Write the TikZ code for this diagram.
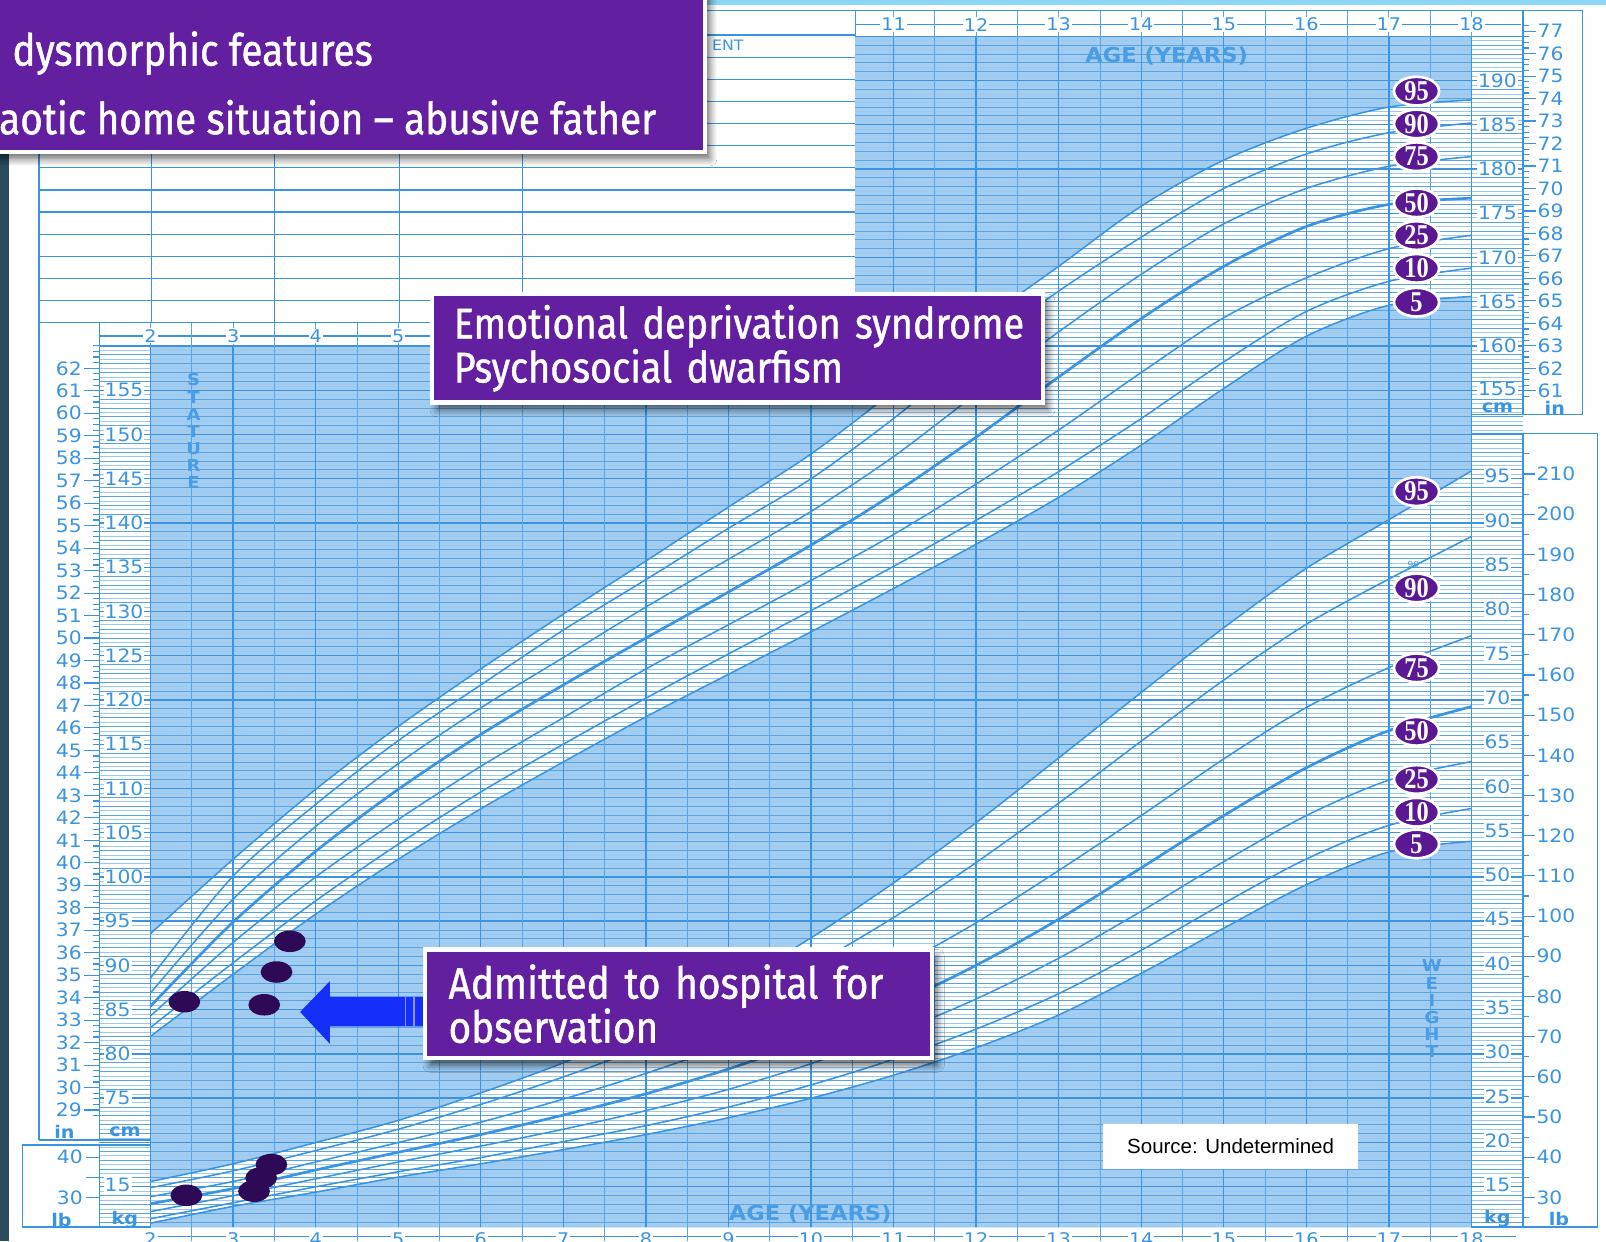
\documentclass[tikz,border=0pt]{standalone}
\usepackage{fontspec}
\setmainfont{Liberation Sans}
\newfontfamily\boxfont{Fira Sans}[FakeStretch=0.88,FakeBold=1]
\newfontfamily\chartfont{DejaVu Sans}[FakeStretch=1.1]
\newfontfamily\badgefont{Liberation Serif}[FakeStretch=0.85]
\usetikzlibrary{positioning,shapes.geometric,shadows.blur}

\definecolor{boxpurple}{RGB}{98,31,160}
\definecolor{badgepurple}{RGB}{90,24,146}
\definecolor{dotpurple}{RGB}{46,10,86}
\definecolor{chartfill}{RGB}{163,205,240}
\definecolor{gridblue}{RGB}{58,148,226}
\definecolor{arrowblue}{RGB}{22,46,250}
\definecolor{stripdark}{RGB}{42,74,94}
\definecolor{topcyan}{RGB}{140,214,245}

\tikzset{
  textbox/.style={fill=boxpurple, draw=white, line width=4pt, text=white,
    font=\boxfont\fontsize{43}{43}\selectfont, align=left, inner ysep=0pt,
    blur shadow={shadow xshift=5pt, shadow yshift=-7pt, shadow blur steps=8,
      shadow opacity=60, shadow blur radius=7pt}},
  boxline/.style={text=white, font=\boxfont\fontsize{43}{43}\selectfont, inner sep=0pt},
  badge/.style={ellipse, fill=badgepurple, draw=white, line width=2.6pt, text=white,
    minimum width=44pt, minimum height=28pt, inner sep=0pt,
    font=\badgefont\bfseries\fontsize{28}{28}\selectfont},
  dot/.style={ellipse, fill=dotpurple, minimum width=31pt, minimum height=21pt, inner sep=0pt},
  scalelbl/.style={text=gridblue, font=\chartfont\fontsize{18}{18}\selectfont, inner sep=1pt},
  agelbl/.style={scalelbl, fill=white, font=\chartfont\fontsize{17}{17}\selectfont},
  unitlbl/.style={text=gridblue, font=\chartfont\bfseries\fontsize{17}{17}\selectfont, inner sep=0pt},
  bigword/.style={text=gridblue!92!white, font=\chartfont\bfseries\fontsize{20}{20}\selectfont, inner sep=0pt},
  formline/.style={draw=gridblue, line width=1.2pt},
  gridhair/.style={draw=gridblue!50, line width=0.5pt},
  gridthin/.style={draw=gridblue!85, line width=0.8pt},
  gridmid/.style={draw=gridblue, line width=1.4pt},
  tickline/.style={draw=gridblue, line width=1.1pt},
  pcurve/.style={draw=gridblue, line width=1.5pt},
}

\begin{document}
\begin{tikzpicture}[x=1pt,y=1pt]
\def\stA{plot[smooth] coordinates {(2,82.0) (3,89.0) (4,95.8) (5,102.0) (6,107.7) (7,113.0) (8,118.1) (9,122.9) (10,127.7) (11,132.6) (12,137.6) (13,142.9) (14,148.8) (15,155.2) (16,161.1) (17,164.6) (18,165.6)}}
\def\stB{plot[smooth] coordinates {(2,83.0) (3,90.3) (4,97.3) (5,103.7) (6,109.6) (7,115.0) (8,120.2) (9,125.2) (10,130.1) (11,135.1) (12,140.3) (13,145.8) (14,151.8) (15,158.2) (16,163.9) (17,167.3) (18,168.8)}}
\def\stC{plot[smooth] coordinates {(2,84.3) (3,92.6) (4,100.0) (5,106.5) (6,112.5) (7,118.0) (8,123.5) (9,128.5) (10,133.5) (11,138.7) (12,144.4) (13,150.5) (14,157.0) (15,163.2) (16,167.7) (17,171.0) (18,172.5)}}
\def\stD{plot[smooth] coordinates {(2,85.4) (3,94.9) (4,102.9) (5,109.9) (6,116.1) (7,121.7) (8,127.0) (9,132.2) (10,137.5) (11,143.3) (12,149.7) (13,156.5) (14,163.1) (15,169.0) (16,173.5) (17,176.0) (18,176.7)}}
\def\stE{plot[smooth] coordinates {(2,86.9) (3,97.5) (4,105.7) (5,112.8) (6,119.1) (7,124.8) (8,130.5) (9,135.9) (10,141.3) (11,147.5) (12,154.6) (13,161.6) (14,168.1) (15,173.8) (16,177.8) (17,180.3) (18,181.4)}}
\def\stF{plot[smooth] coordinates {(2,88.6) (3,100.1) (4,108.2) (5,115.4) (6,121.7) (7,127.9) (8,133.6) (9,139.4) (10,145.0) (11,151.8) (12,159.4) (13,166.2) (14,172.3) (15,177.8) (16,181.7) (17,184.1) (18,185.2)}}
\def\stG{plot[smooth] coordinates {(2,93.6) (3,102.0) (4,109.9) (5,117.0) (6,123.5) (7,129.7) (8,135.7) (9,141.8) (10,147.8) (11,154.9) (12,162.3) (13,169.0) (14,175.8) (15,181.0) (16,184.6) (17,187.0) (18,187.8)}}
\def\wtA{plot[smooth] coordinates {(2,10.7) (3,12.6) (4,14.2) (5,15.9) (6,17.4) (7,19.0) (8,20.7) (9,22.6) (10,24.8) (11,27.4) (12,30.5) (13,34.2) (14,38.9) (15,44.0) (16,48.9) (17,52.6) (18,53.8)}}
\def\wtB{plot[smooth] coordinates {(2,11.2) (3,13.0) (4,14.8) (5,16.5) (6,18.1) (7,19.9) (8,21.7) (9,23.8) (10,26.3) (11,29.2) (12,32.6) (13,36.6) (14,41.5) (15,46.8) (16,51.8) (17,55.6) (18,57.5)}}
\def\wtC{plot[smooth] coordinates {(2,12.0) (3,13.8) (4,15.7) (5,17.6) (6,19.4) (7,21.3) (8,23.4) (9,25.8) (10,28.7) (11,32.1) (12,36.0) (13,40.6) (14,45.9) (15,51.5) (16,56.7) (17,60.7) (18,62.8)}}
\def\wtD{plot[smooth] coordinates {(2,12.9) (3,14.6) (4,16.7) (5,18.7) (6,20.7) (7,22.9) (8,25.3) (9,28.1) (10,31.4) (11,35.3) (12,39.8) (13,45.0) (14,50.8) (15,56.7) (16,62.1) (17,66.3) (18,69.0)}}
\def\wtE{plot[smooth] coordinates {(2,13.7) (3,15.4) (4,17.6) (5,19.8) (6,22.1) (7,24.7) (8,27.6) (9,30.9) (10,34.9) (11,39.4) (12,44.6) (13,50.5) (14,56.7) (15,63.1) (16,68.9) (17,73.4) (18,77.0)}}
\def\wtF{plot[smooth] coordinates {(2,14.7) (3,16.6) (4,18.9) (5,21.3) (6,24.1) (7,27.2) (8,30.7) (9,34.8) (10,39.7) (11,45.2) (12,51.4) (13,58.1) (14,65.1) (15,72.0) (16,78.3) (17,83.4) (18,88.2)}}
\def\wtG{plot[smooth] coordinates {(2,15.4) (3,17.4) (4,19.8) (5,22.3) (6,25.4) (7,28.8) (8,32.8) (9,37.4) (10,42.9) (11,49.1) (12,55.9) (13,63.2) (14,70.6) (15,77.9) (16,84.6) (17,90.1) (18,95.6)}}
\useasboundingbox (0,0) rectangle (1568,-1212);
\clip (0,0) rectangle (1568,-1212);
\fill[white] (0,0) rectangle (1568,-1212);
\fill[topcyan] (690,0) rectangle (1568,-5);
\fill[stripdark] (0,-140) rectangle (9,-1212);

% form area
\foreach \fk in {1,...,13}
  \draw[formline] (38,{-315+21.6*\fk}) -- (835,{-315+21.6*\fk});
\foreach \fx in {148,268,390,510} \draw[formline] (\fx,-140) -- (\fx,-315);
\draw[formline] (38,-140) -- (38,-1113);
\draw[formline] (38,-315) -- (835,-315);
\draw[formline] (835,-10) -- (835,-337);
\draw[formline] (690,-10) -- (1545,-10);
\node[scalelbl, anchor=west, font=\chartfont\fontsize{14}{14}\selectfont] (ent) at (694,-44) {ENT};

% shaded chart and white bands
\fill[chartfill] (147,-337) rectangle (1437,-1198);
\fill[chartfill] (835,-35) rectangle (1437,-337);
\begin{scope}[shift={(-14.2pt,-1720.2pt)}, x=80.6pt, y=8.64pt]
  \fill[white] \stG -- (18,60.4) -- (2,60.4) -- cycle;
  \fill[chartfill] \stA -- (18,60.4) -- (2,60.4) -- cycle;
\end{scope}
\begin{scope}[shift={(-14.2pt,-1286.75pt)}, x=80.6pt, y=8.65pt]
  \fill[white] \wtG -- (18,10.26) -- (2,10.26) -- cycle;
  \fill[chartfill] \wtA -- (18,10.26) -- (2,10.26) -- cycle;
\end{scope}

% grid
\begin{scope}
  \clip (97,-337) rectangle (1487,-1198) (835,-35) rectangle (1487,-337);
  \begin{scope}[shift={(-14.2pt,-1720.2pt)}, x=80.6pt, y=8.64pt]
    \foreach \hc in {60.5,61.5,...,196.5} \draw[gridhair] (1.3,\hc) -- (18.7,\hc);
    \foreach \hc in {61,...,196} \draw[gridthin] (1.3,\hc) -- (18.7,\hc);
    \foreach \hc in {65,70,...,195} \draw[gridmid] (1.3,\hc) -- (18.7,\hc);
    \foreach \ag in {2,2.5,...,18} \draw[gridthin] (\ag,60) -- (\ag,200);
    \foreach \ag in {2,...,18} \draw[gridmid] (\ag,60) -- (\ag,200);
  \end{scope}
\end{scope}

% percentile curves
\begin{scope}[shift={(-14.2pt,-1720.2pt)}, x=80.6pt, y=8.64pt]
  \draw[pcurve] \stA; \draw[pcurve] \stB; \draw[pcurve] \stC;
  \draw[pcurve, line width=2.6pt] \stD;
  \draw[pcurve] \stE; \draw[pcurve] \stF; \draw[pcurve] \stG;
\end{scope}
\begin{scope}[shift={(-14.2pt,-1286.75pt)}, x=80.6pt, y=8.65pt]
  \draw[pcurve] \wtA; \draw[pcurve] \wtB; \draw[pcurve] \wtC;
  \draw[pcurve, line width=2.6pt] \wtD;
  \draw[pcurve] \wtE; \draw[pcurve] \wtF; \draw[pcurve] \wtG;
\end{scope}

% left scales
\draw[formline] (97,-315) -- (97,-1113);
\draw[formline] (38,-1113) -- (147,-1113);
\draw[formline] (22,-1118) rectangle (147,-1198);
\draw[formline] (97,-1118) -- (97,-1198);
\foreach \iq in {28.75,29,...,63} \draw[tickline] (91,{-1720.2+21.9456*\iq}) -- (97,{-1720.2+21.9456*\iq});
\foreach \ii in {29,...,62} {
  \draw[tickline] (82,{-1720.2+21.9456*\ii}) -- (97,{-1720.2+21.9456*\ii});
  \node[scalelbl, anchor=east] (inL\ii) at (81,{-1720.2+21.9456*\ii}) {\ii};
}
\foreach \hc in {75,80,...,155}
  \node[scalelbl, fill=white, anchor=west] (cmL\hc) at (101,{-1720.2+8.64*\hc}) {\hc};
\node[unitlbl] (inU) at (63,-1105) {in};
\node[unitlbl] (cmU) at (122,-1105) {cm};
\foreach \lb in {30,35,40} \draw[tickline] (84,{-1286.75+3.9236*\lb}) -- (97,{-1286.75+3.9236*\lb});
\foreach \lb in {30,40} \node[scalelbl, anchor=east] (lbL\lb) at (82,{-1286.75+3.9236*\lb}) {\lb};
\node[scalelbl, fill=white, anchor=west] (kgL15) at (101,{-1286.75+8.65*15}) {15};
\node[unitlbl] (lbU) at (60,-1191) {lb};
\node[unitlbl] (kgU) at (122,-1191) {kg};

% right scales
\draw[formline] (1437,-10) rectangle (1545,-405);
\draw[formline] (1487,-10) -- (1487,-405);
\foreach \iq in {60.75,61,...,77.25} \draw[tickline] (1487,{-1720.2+21.9456*\iq}) -- (1493,{-1720.2+21.9456*\iq});
\foreach \ii in {61,...,77} {
  \draw[tickline] (1487,{-1720.2+21.9456*\ii}) -- (1500,{-1720.2+21.9456*\ii});
  \node[scalelbl, anchor=west] (inR\ii) at (1500,{-1720.2+21.9456*\ii}) {\ii};
}
\foreach \hc in {160,165,...,190}
  \node[scalelbl, fill=white] (cmR\hc) at (1462,{-1720.2+8.64*\hc}) {\hc};
\node[scalelbl, fill=white, inner ysep=0pt] (cmR155) at (1462,-380) {155};
\node[unitlbl] (cmUR) at (1462,-398) {cm};
\node[unitlbl] (inUR) at (1518,-398) {in};
\draw[formline] (1437,-423) rectangle (1560,-1198);
\draw[formline] (1487,-423) -- (1487,-1198);
\foreach \lb in {25,35,...,215} \draw[tickline] (1487,{-1286.75+3.9236*\lb}) -- (1493,{-1286.75+3.9236*\lb});
\foreach \lb in {30,40,...,210} {
  \draw[tickline] (1487,{-1286.75+3.9236*\lb}) -- (1499,{-1286.75+3.9236*\lb});
  \node[scalelbl, anchor=west] (lbR\lb) at (1499,{-1286.75+3.9236*\lb}) {\lb};
}
\foreach \kg in {15,20,...,95}
  \node[scalelbl, fill=white] (kgR\kg) at (1462,{-1286.75+8.65*\kg}) {\kg};
\node[unitlbl] (kgUR) at (1462,-1190) {kg};
\node[unitlbl] (lbUR) at (1522,-1190) {lb};

% age axes
\draw[formline] (835,-24) -- (1485,-24);
\foreach \ag in {11,11.5,...,18} \draw[gridthin] ({-14.2+80.6*\ag},-10) -- ({-14.2+80.6*\ag},-35);
\foreach \ag in {11,...,18} \node[agelbl] (topA\ag) at ({-14.2+80.6*\ag},-24) {\ag};
\draw[formline] (97,-328) -- (420,-328);
\foreach \ag in {2,2.5,...,5} \draw[gridthin] ({-14.2+80.6*\ag},-315) -- ({-14.2+80.6*\ag},-337);
\foreach \ag in {2,...,5} \node[agelbl] (midA\ag) at ({-14.2+80.6*\ag},-328) {\ag};
\draw[formline] (147,-1207) -- (1480,-1207);
\foreach \ag in {2.5,3.5,...,17.5} \draw[gridthin] ({-14.2+80.6*\ag},-1198) -- ({-14.2+80.6*\ag},-1212);
\foreach \ag in {2,...,18} \node[agelbl] (botA\ag) at ({-14.2+80.6*\ag},-1210) {\ag};
\node[bigword] (ageT) at (1139,-55) {AGE (YEARS)};
\node[bigword] (ageB) at (791,-1185) {AGE (YEARS)};
\node[bigword, align=center, font=\chartfont\bfseries\fontsize{16}{16.7}\selectfont]
  (stature) at (189,-421) {S\\T\\A\\T\\U\\R\\E};
\node[bigword, align=center, font=\chartfont\bfseries\fontsize{16}{16.8}\selectfont]
  (weight) at (1398,-985) {W\\E\\I\\G\\H\\T};

% percentile badges
\foreach \pc/\yy in {95/89,90/121,75/153,50/198,25/230,10/262,5/295}
  \node[badge] (sb\pc) at (1383,-\yy) {\pc};
\foreach \pc/\yy in {95/480,90/574,75/652,50/714,25/761,10/793,5/824}
  \node[badge] (wb\pc) at (1383,-\yy) {\pc};
\node[scalelbl, font=\chartfont\fontsize{8}{8}\selectfont, inner sep=0pt] (ninety) at (1380,-551) {90};

% patient measurements
\foreach \dx/\dy [count=\nn] in {180/978,258/981,270/949,283/919}
  \node[dot] (hd\nn) at (\dx,-\dy) {};
\foreach \dx/\dy [count=\nn] in {182/1167,248/1163,255/1150,265/1137}
  \node[dot] (wd\nn) at (\dx,-\dy) {};

% arrow and call-outs
\coordinate (tip) at (293,-988);
\fill[arrowblue] (tip) -- ++(29,30) -- ++(0,-15) -- ++(92,0) -- ++(0,-29) -- ++(-92,0) -- ++(0,-17) -- cycle;
\draw[white, opacity=0.5, line width=1.5pt] (396,-973) -- (396,-1002) (404,-973) -- (404,-1002);
\node[textbox, minimum width=696pt, minimum height=156pt] (hdrbox) at (340,-70) {};
\node[boxline, anchor=base west] (dysm) at (12,-64) {dysmorphic features};
\node[boxline, anchor=base west] (chaos) at (-1,-131) {aotic home situation – abusive father};
\node[textbox, minimum height=106pt, text width=554pt, inner xsep=21pt,
  font=\boxfont\fontsize{42}{43}\selectfont] (edsbox) at (720,-340)
  {\mbox{Emotional deprivation syndrome}\\\mbox{Psychosocial dwarfism}};
\node[textbox, minimum height=106pt, text width=449pt, inner xsep=23pt] (admbox) at (662.5,-980)
  {\mbox{Admitted to hospital for}\\\mbox{observation}};
\node[fill=white, minimum width=249pt, minimum height=44pt, inner sep=0pt,
  font=\fontsize{20}{20}\selectfont] (src) at (1201.5,-1119) {Source: Undetermined};
\end{tikzpicture}
\end{document}
